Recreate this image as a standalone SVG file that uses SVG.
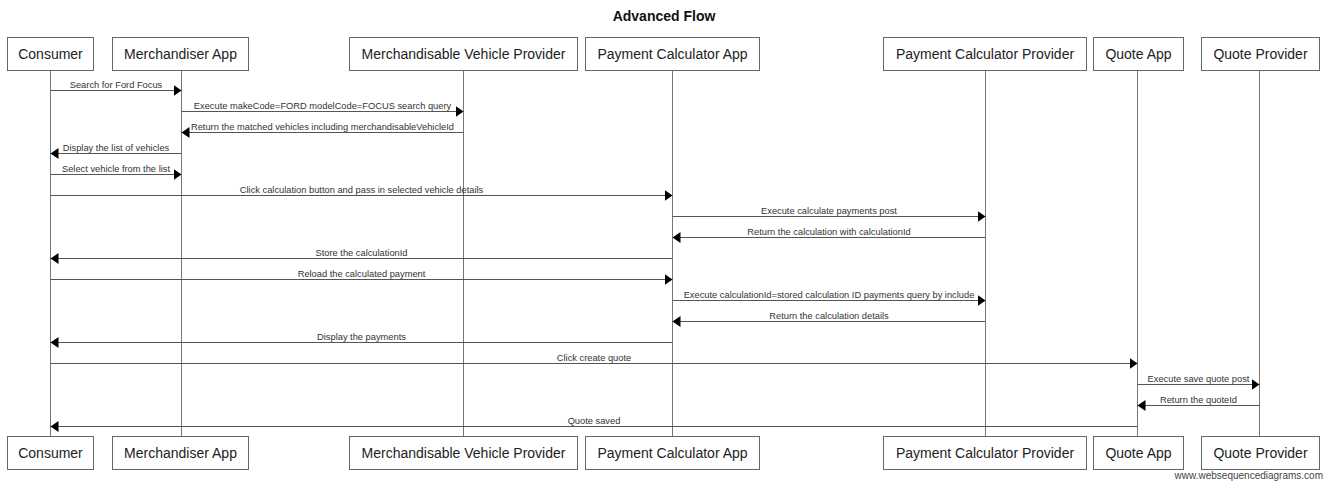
<svg xmlns="http://www.w3.org/2000/svg" width="1330" height="483" viewBox="0 0 1330 483">
<style>
.bg{fill:#ffffff}
.box{fill:#ffffff;stroke:#666666;stroke-width:1}
.ptext{font-family:"Liberation Sans",Arial,sans-serif;font-size:14px;fill:#222222;text-anchor:middle}
.life{stroke:#777777;stroke-width:1}
.msg{stroke:#555555;stroke-width:1;fill:none;marker-end:url(#ah)}
.mtext{font-family:"Liberation Sans",Arial,sans-serif;font-size:9.3px;fill:#333333;text-anchor:middle}
.title{font-family:"Liberation Sans",Arial,sans-serif;font-size:14px;font-weight:bold;fill:#111111;text-anchor:middle}
.wm{font-family:"Liberation Sans",Arial,sans-serif;font-size:10px;fill:#444444;text-anchor:end}
</style>
<defs>
<marker id="ah" markerUnits="userSpaceOnUse" markerWidth="9" markerHeight="12" refX="8" refY="5.5" orient="auto">
<path d="M0,0 L8,5.5 L0,11 z" fill="#000000"/>
</marker>
</defs>
<rect class="bg" x="0" y="0" width="1330" height="483"/>
<text class="title" x="664" y="21">Advanced Flow</text>

<g id="lifelines">
<line class="life" x1="50.5" y1="70" x2="50.5" y2="437"/>
<line class="life" x1="181.5" y1="70" x2="181.5" y2="437"/>
<line class="life" x1="463.5" y1="70" x2="463.5" y2="437"/>
<line class="life" x1="672.5" y1="70" x2="672.5" y2="437"/>
<line class="life" x1="985.5" y1="70" x2="985.5" y2="437"/>
<line class="life" x1="1137.5" y1="70" x2="1137.5" y2="437"/>
<line class="life" x1="1259.5" y1="70" x2="1259.5" y2="437"/>
</g>

<g id="consumer">
<rect class="box" x="7.5" y="37.5" width="86" height="33"/>
<text class="ptext" x="50.5" y="58.5">Consumer</text>
<rect class="box" x="7.5" y="436.5" width="86" height="33"/>
<text class="ptext" x="50.5" y="457.5">Consumer</text>
</g>
<g id="merchandiser-app">
<rect class="box" x="112.5" y="37.5" width="136" height="33"/>
<text class="ptext" x="180.5" y="58.5">Merchandiser App</text>
<rect class="box" x="112.5" y="436.5" width="136" height="33"/>
<text class="ptext" x="180.5" y="457.5">Merchandiser App</text>
</g>
<g id="merchandisable-vehicle-provider">
<rect class="box" x="349.5" y="37.5" width="228" height="33"/>
<text class="ptext" x="463.5" y="58.5">Merchandisable Vehicle Provider</text>
<rect class="box" x="349.5" y="436.5" width="228" height="33"/>
<text class="ptext" x="463.5" y="457.5">Merchandisable Vehicle Provider</text>
</g>
<g id="payment-calculator-app">
<rect class="box" x="585.5" y="37.5" width="174" height="33"/>
<text class="ptext" x="672.5" y="58.5">Payment Calculator App</text>
<rect class="box" x="585.5" y="436.5" width="174" height="33"/>
<text class="ptext" x="672.5" y="457.5">Payment Calculator App</text>
</g>
<g id="payment-calculator-provider">
<rect class="box" x="883.5" y="37.5" width="203" height="33"/>
<text class="ptext" x="985" y="58.5">Payment Calculator Provider</text>
<rect class="box" x="883.5" y="436.5" width="203" height="33"/>
<text class="ptext" x="985" y="457.5">Payment Calculator Provider</text>
</g>
<g id="quote-app">
<rect class="box" x="1093.5" y="37.5" width="90" height="33"/>
<text class="ptext" x="1138.5" y="58.5">Quote App</text>
<rect class="box" x="1093.5" y="436.5" width="90" height="33"/>
<text class="ptext" x="1138.5" y="457.5">Quote App</text>
</g>
<g id="quote-provider">
<rect class="box" x="1201.5" y="37.5" width="118" height="33"/>
<text class="ptext" x="1260.5" y="58.5">Quote Provider</text>
<rect class="box" x="1201.5" y="436.5" width="118" height="33"/>
<text class="ptext" x="1260.5" y="457.5">Quote Provider</text>
</g>

<g id="connectors">
<line class="msg" x1="50.5" y1="90.5" x2="181.5" y2="90.5"/>
<text class="mtext" x="116" y="87.5">Search for Ford Focus</text>
<line class="msg" x1="181.5" y1="111.5" x2="463.5" y2="111.5"/>
<text class="mtext" x="322.5" y="108.5">Execute makeCode=FORD modelCode=FOCUS search query</text>
<line class="msg" x1="463.5" y1="132.5" x2="181.5" y2="132.5"/>
<text class="mtext" x="322.5" y="129.5">Return the matched vehicles including merchandisableVehicleId</text>
<line class="msg" x1="181.5" y1="153.5" x2="50.5" y2="153.5"/>
<text class="mtext" x="116" y="150.5">Display the list of vehicles</text>
<line class="msg" x1="50.5" y1="174.5" x2="181.5" y2="174.5"/>
<text class="mtext" x="116" y="171.5">Select vehicle from the list</text>
<line class="msg" x1="50.5" y1="195.5" x2="672.5" y2="195.5"/>
<text class="mtext" x="361.5" y="192.5">Click calculation button and pass in selected vehicle details</text>
<line class="msg" x1="672.5" y1="216.5" x2="985.5" y2="216.5"/>
<text class="mtext" x="829" y="213.5">Execute calculate payments post</text>
<line class="msg" x1="985.5" y1="237.5" x2="672.5" y2="237.5"/>
<text class="mtext" x="829" y="234.5">Return the calculation with calculationId</text>
<line class="msg" x1="672.5" y1="258.5" x2="50.5" y2="258.5"/>
<text class="mtext" x="361.5" y="255.5">Store the calculationId</text>
<line class="msg" x1="50.5" y1="279.5" x2="672.5" y2="279.5"/>
<text class="mtext" x="361.5" y="276.5">Reload the calculated payment</text>
<line class="msg" x1="672.5" y1="300.5" x2="985.5" y2="300.5"/>
<text class="mtext" x="829" y="297.5">Execute calculationId=stored calculation ID payments query by include</text>
<line class="msg" x1="985.5" y1="321.5" x2="672.5" y2="321.5"/>
<text class="mtext" x="829" y="318.5">Return the calculation details</text>
<line class="msg" x1="672.5" y1="342.5" x2="50.5" y2="342.5"/>
<text class="mtext" x="361.5" y="339.5">Display the payments</text>
<line class="msg" x1="50.5" y1="363.5" x2="1137.5" y2="363.5"/>
<text class="mtext" x="594" y="360.5">Click create quote</text>
<line class="msg" x1="1137.5" y1="384.5" x2="1259.5" y2="384.5"/>
<text class="mtext" x="1198.5" y="381.5">Execute save quote post</text>
<line class="msg" x1="1259.5" y1="405.5" x2="1137.5" y2="405.5"/>
<text class="mtext" x="1198.5" y="402.5">Return the quoteId</text>
<line class="msg" x1="1137.5" y1="426.5" x2="50.5" y2="426.5"/>
<text class="mtext" x="594" y="423.5">Quote saved</text>
</g>

<text class="wm" x="1323" y="479">www.websequencediagrams.com</text>
</svg>
